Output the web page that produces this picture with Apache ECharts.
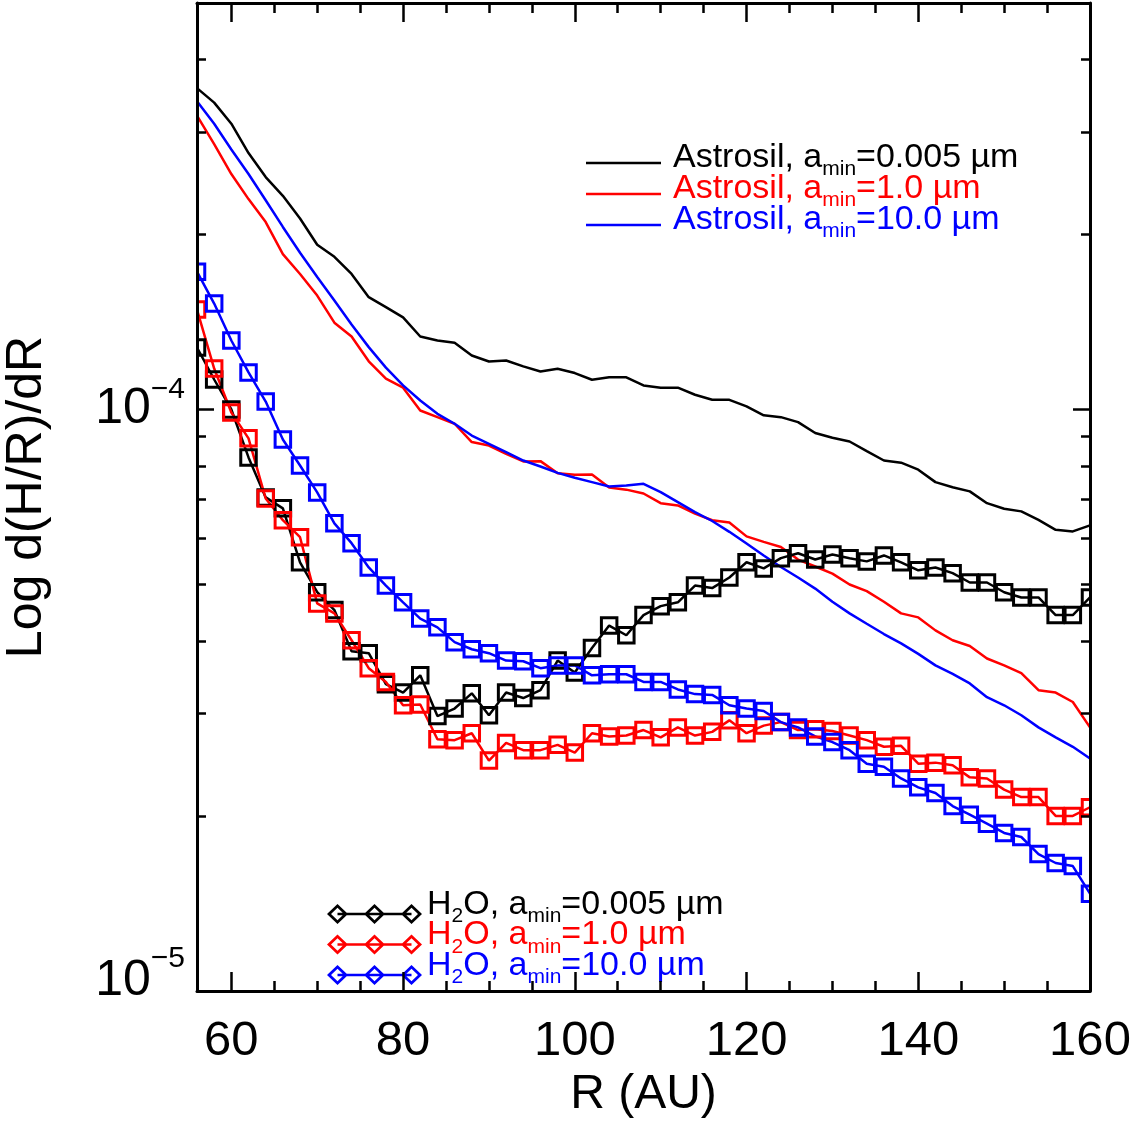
<!DOCTYPE html>
<html>
<head>
<meta charset="utf-8">
<script src="https://cdn.jsdelivr.net/npm/echarts@6/dist/echarts.min.js"></script>
<style>
html,body{margin:0;padding:0;background:#fff;}
#chart{width:1146px;height:1126px;}
</style>
</head>
<body>
<div id="chart"></div>
<script>
// Radius grid (AU)
const R = [56,58,60,62,64,66,68,70,72,74,76,78,80,82,84,86,88,90,92,94,96,98,100,102,104,106,108,110,112,114,116,118,120,122,124,126,128,130,132,134,136,138,140,142,144,146,148,150,152,154,156,158,160];

// d(H/R)/dR values, in units of 1e-4
const astrosil_0005 = [3.57,3.37,3.10,2.76,2.51,2.33,2.13,1.92,1.83,1.71,1.56,1.50,1.44,1.335,1.314,1.302,1.238,1.209,1.214,1.186,1.162,1.175,1.155,1.125,1.136,1.136,1.100,1.090,1.090,1.060,1.039,1.039,1.012,0.977,0.970,0.951,0.911,0.894,0.881,0.848,0.817,0.810,0.788,0.750,0.735,0.723,0.690,0.675,0.668,0.646,0.621,0.617,0.632];
const astrosil_1 = [3.20,2.86,2.54,2.30,2.10,1.85,1.71,1.57,1.41,1.335,1.21,1.13,1.09,0.996,0.970,0.945,0.879,0.867,0.839,0.814,0.815,0.777,0.772,0.773,0.734,0.728,0.717,0.690,0.684,0.662,0.645,0.639,0.605,0.592,0.580,0.552,0.537,0.522,0.500,0.487,0.467,0.446,0.439,0.417,0.401,0.392,0.373,0.363,0.352,0.329,0.326,0.314,0.284];
const astrosil_10 = [3.39,3.10,2.80,2.54,2.29,2.06,1.86,1.69,1.54,1.40,1.28,1.18,1.10,1.036,0.983,0.945,0.902,0.873,0.845,0.817,0.798,0.778,0.763,0.750,0.737,0.740,0.745,0.721,0.693,0.666,0.643,0.616,0.588,0.561,0.536,0.514,0.492,0.467,0.446,0.428,0.411,0.396,0.380,0.363,0.351,0.338,0.320,0.310,0.298,0.284,0.273,0.263,0.251];
const h2o_0005 = [1.278,1.126,1.000,0.827,0.706,0.676,0.546,0.485,0.452,0.384,0.381,0.337,0.326,0.349,0.297,0.306,0.325,0.298,0.326,0.319,0.329,0.370,0.353,0.389,0.425,0.409,0.443,0.459,0.466,0.498,0.493,0.514,0.546,0.533,0.555,0.566,0.552,0.563,0.555,0.548,0.561,0.546,0.529,0.535,0.523,0.504,0.504,0.485,0.475,0.475,0.443,0.443,0.475];
const h2o_1 = [1.485,1.176,0.988,0.892,0.703,0.645,0.603,0.464,0.446,0.401,0.359,0.340,0.310,0.311,0.271,0.270,0.2775,0.249,0.267,0.2595,0.2595,0.265,0.257,0.2775,0.274,0.275,0.281,0.273,0.284,0.275,0.279,0.292,0.2775,0.286,0.290,0.281,0.282,0.280,0.275,0.270,0.263,0.264,0.246,0.247,0.2445,0.233,0.232,0.222,0.2155,0.2155,0.200,0.200,0.207];
const h2o_10 = [1.726,1.521,1.314,1.158,1.032,0.888,0.801,0.720,0.637,0.589,0.535,0.498,0.466,0.437,0.422,0.398,0.387,0.381,0.370,0.369,0.359,0.363,0.363,0.349,0.3505,0.3505,0.340,0.340,0.330,0.324,0.323,0.310,0.306,0.303,0.290,0.284,0.274,0.268,0.2595,0.246,0.243,0.232,0.224,0.219,0.208,0.201,0.194,0.187,0.184,0.172,0.166,0.164,0.147];
const UNIT = 1e-4;

// Axis ticks
const xMajorTicks = [60,80,100,120,140,160];
const xMinorTicks = [65,70,75,85,90,95,105,110,115,125,130,135,145,150,155];
const yMajorTicks = [1e-5,1e-4];
const yMinorTicks = [2e-5,3e-5,4e-5,5e-5,6e-5,7e-5,8e-5,9e-5,2e-4,3e-4,4e-4];

// Series names
const names = {
  a0005: 'Astrosil, amin=0.005 µm',
  a1: 'Astrosil, amin=1.0 µm',
  a10: 'Astrosil, amin=10.0 µm',
  h0005: 'H2O, amin=0.005 µm',
  h1: 'H2O, amin=1.0 µm',
  h10: 'H2O, amin=10.0 µm'
};

const FONT = "'Liberation Sans', Arial, Helvetica, sans-serif";
const W = 1146, H = 1126;
const GRID = {left:197, right:56, top:3, bottom:135};
const BLACK = '#000000', RED = '#ff0000', BLUE = '#0000ff';

function toData(arr){ return R.map((r,i)=>[r, arr[i]*UNIT]); }

// legend icons (style only)
const astroIcon = 'path://M0,6L0.01,6L0,6.01Z M0,17.5L75,17.5L75,20L0,20Z';
function diamondIcon(){
  const D = 29, cx = [10.5,47.5,84.5], ho=10.5, vo=10, hi=6.5, vi=6.2;
  let p = 'M0,0L0.01,0L0,0.01Z ';
  cx.forEach(c=>{
    p += `M${c},${D-vo}L${c+ho},${D}L${c},${D+vo}L${c-ho},${D}Z `;
    p += `M${c},${D-vi}L${c-hi},${D}L${c},${D+vi}L${c+hi},${D}Z `;
  });
  p += `M10.5,${D-1.3}L84.5,${D-1.3}L84.5,${D+1.3}L10.5,${D+1.3}Z`;
  return 'path://' + p;
}
const h2oIcon = diamondIcon();

const lineW = 2.5;
function astroSeries(name, arr, color){
  return {type:'line', name, data:toData(arr), xAxisIndex:0, yAxisIndex:0,
    symbol:'none', showSymbol:false, silent:true, z:2,
    lineStyle:{color, width:lineW}, itemStyle:{color}, emphasis:{disabled:true}};
}
function h2oSeries(name, arr, color){
  return {type:'line', name, data:toData(arr), xAxisIndex:0, yAxisIndex:0,
    symbol:'rect', symbolSize:15.5, showSymbol:true, silent:true, z:3,
    lineStyle:{color, width:lineW},
    itemStyle:{color:'transparent', borderColor:color, borderWidth:3},
    emphasis:{disabled:true}};
}

const tickLine = {color:BLACK, width:2.5};
const axLine = {show:true, onZero:false, lineStyle:{color:BLACK, width:3}};

function xAxisDef(pos, ticks, len, withLine, withLabel){
  const a = {type:'value', position:pos, min:56, max:160, z:10,
    axisLine: withLine ? axLine : {show:false},
    axisTick:{show:true, inside:true, length:len, lineStyle:tickLine, customValues:ticks},
    axisLabel:{show:false}, splitLine:{show:false}};
  if (withLabel){
    a.axisLabel = {show:true, customValues:ticks, margin:26, fontFamily:FONT, fontSize:49, color:BLACK};
    a.name = 'R (AU)'; a.nameLocation='middle'; a.nameGap = 80;
    a.nameTextStyle = {fontFamily:FONT, fontSize:48, color:BLACK};
  }
  return a;
}
function yAxisDef(pos, ticks, len, withLine, withLabel){
  const a = {type:'log', logBase:10, position:pos, min:1e-5, max:5e-4, z:10,
    axisLine: withLine ? axLine : {show:false},
    axisTick:{show:true, inside:true, length:len, lineStyle:tickLine, customValues:ticks},
    axisLabel:{show:false}, splitLine:{show:false}, minorTick:{show:false}};
  if (withLabel){
    a.axisLabel = {show:true, customValues:yMajorTicks, margin:12, lineHeight:69,
      formatter: v => {
        const lg = Math.log10(v), e = Math.round(lg);
        if (Math.abs(lg-e) > 1e-6) return '';
        return e === -5 ? '{b5|10}{p|\u2212' + (-e) + '}' : '{b|10}{p|\u2212' + (-e) + '}';
      },
      rich:{
        b:{fontFamily:FONT, fontSize:50, color:BLACK},
        p:{fontFamily:FONT, fontSize:30, color:BLACK, verticalAlign:'top'},
        b5:{fontFamily:FONT, fontSize:50, color:BLACK, lineHeight:95, verticalAlign:'top', padding:[12.5,0,0,0]}
      }};
    a.name = 'Log d(H/R)/dR'; a.nameLocation='middle'; a.nameGap=145; a.nameRotate=90;
    a.nameTextStyle = {fontFamily:FONT, fontSize:50, color:BLACK};
  }
  return a;
}

const LEG_LH = 45;
const legendText = ()=>({fontFamily:FONT, fontSize:34, lineHeight:LEG_LH, color:BLACK,
  rich:{s:{fontFamily:FONT, fontSize:21, verticalAlign:'bottom'}}});
const legendFmt = n => n.replace('H2O','H{s|2}O').replace('amin','a{s|min}');

const option = {
  animation:false,
  backgroundColor:'#ffffff',
  grid:{left:GRID.left, right:GRID.right, top:GRID.top, bottom:GRID.bottom, containLabel:false, outerBoundsMode:'none'},
  xAxis:[
    xAxisDef('bottom', xMajorTicks, 19, true, true),
    xAxisDef('bottom', xMinorTicks, 10, false, false),
    xAxisDef('top', xMajorTicks, 19, true, false),
    xAxisDef('top', xMinorTicks, 10, false, false)
  ],
  yAxis:[
    yAxisDef('left', yMajorTicks, 17, true, true),
    yAxisDef('left', yMinorTicks, 9, false, false),
    yAxisDef('right', yMajorTicks, 17, true, false),
    yAxisDef('right', yMinorTicks, 9, false, false)
  ],
  legend:[
    {orient:'vertical', left:586, top:134.75, padding:0, itemGap:31-LEG_LH, selectedMode:false,
     itemWidth:75, itemHeight:14, textStyle:Object.assign(legendText(), {padding:[0,0,0,7]}),
     formatter:legendFmt,
     data:[
      {name:names.a0005, icon:astroIcon, itemStyle:{color:BLACK, borderWidth:0}, textStyle:{color:BLACK}},
      {name:names.a1, icon:astroIcon, itemStyle:{color:RED, borderWidth:0}, textStyle:{color:RED}},
      {name:names.a10, icon:astroIcon, itemStyle:{color:BLUE, borderWidth:0}, textStyle:{color:BLUE}}
     ]},
    {orient:'vertical', left:327, top:882, padding:0, itemGap:30.5-LEG_LH, selectedMode:false,
     itemWidth:95, itemHeight:39, textStyle:legendText(),
     formatter:legendFmt,
     data:[
      {name:names.h0005, icon:h2oIcon, itemStyle:{color:BLACK, borderWidth:0}, textStyle:{color:BLACK}},
      {name:names.h1, icon:h2oIcon, itemStyle:{color:RED, borderWidth:0}, textStyle:{color:RED}},
      {name:names.h10, icon:h2oIcon, itemStyle:{color:BLUE, borderWidth:0}, textStyle:{color:BLUE}}
     ]}
  ],
  graphic:{elements:[
    {type:'rect', z:5, silent:true, shape:{x:0, y:0, width:GRID.left, height:H}, style:{fill:'#ffffff'}},
    {type:'rect', z:5, silent:true, shape:{x:W-GRID.right, y:0, width:GRID.right, height:H}, style:{fill:'#ffffff'}}
  ]},
  series:[
    astroSeries(names.a0005, astrosil_0005, BLACK),
    astroSeries(names.a1, astrosil_1, RED),
    astroSeries(names.a10, astrosil_10, BLUE),
    h2oSeries(names.h0005, h2o_0005, BLACK),
    h2oSeries(names.h1, h2o_1, RED),
    h2oSeries(names.h10, h2o_10, BLUE)
  ]
};

const chart = echarts.init(document.getElementById('chart'), null, {renderer:'canvas', width:W, height:H});
chart.setOption(option);
</script>
</body>
</html>
